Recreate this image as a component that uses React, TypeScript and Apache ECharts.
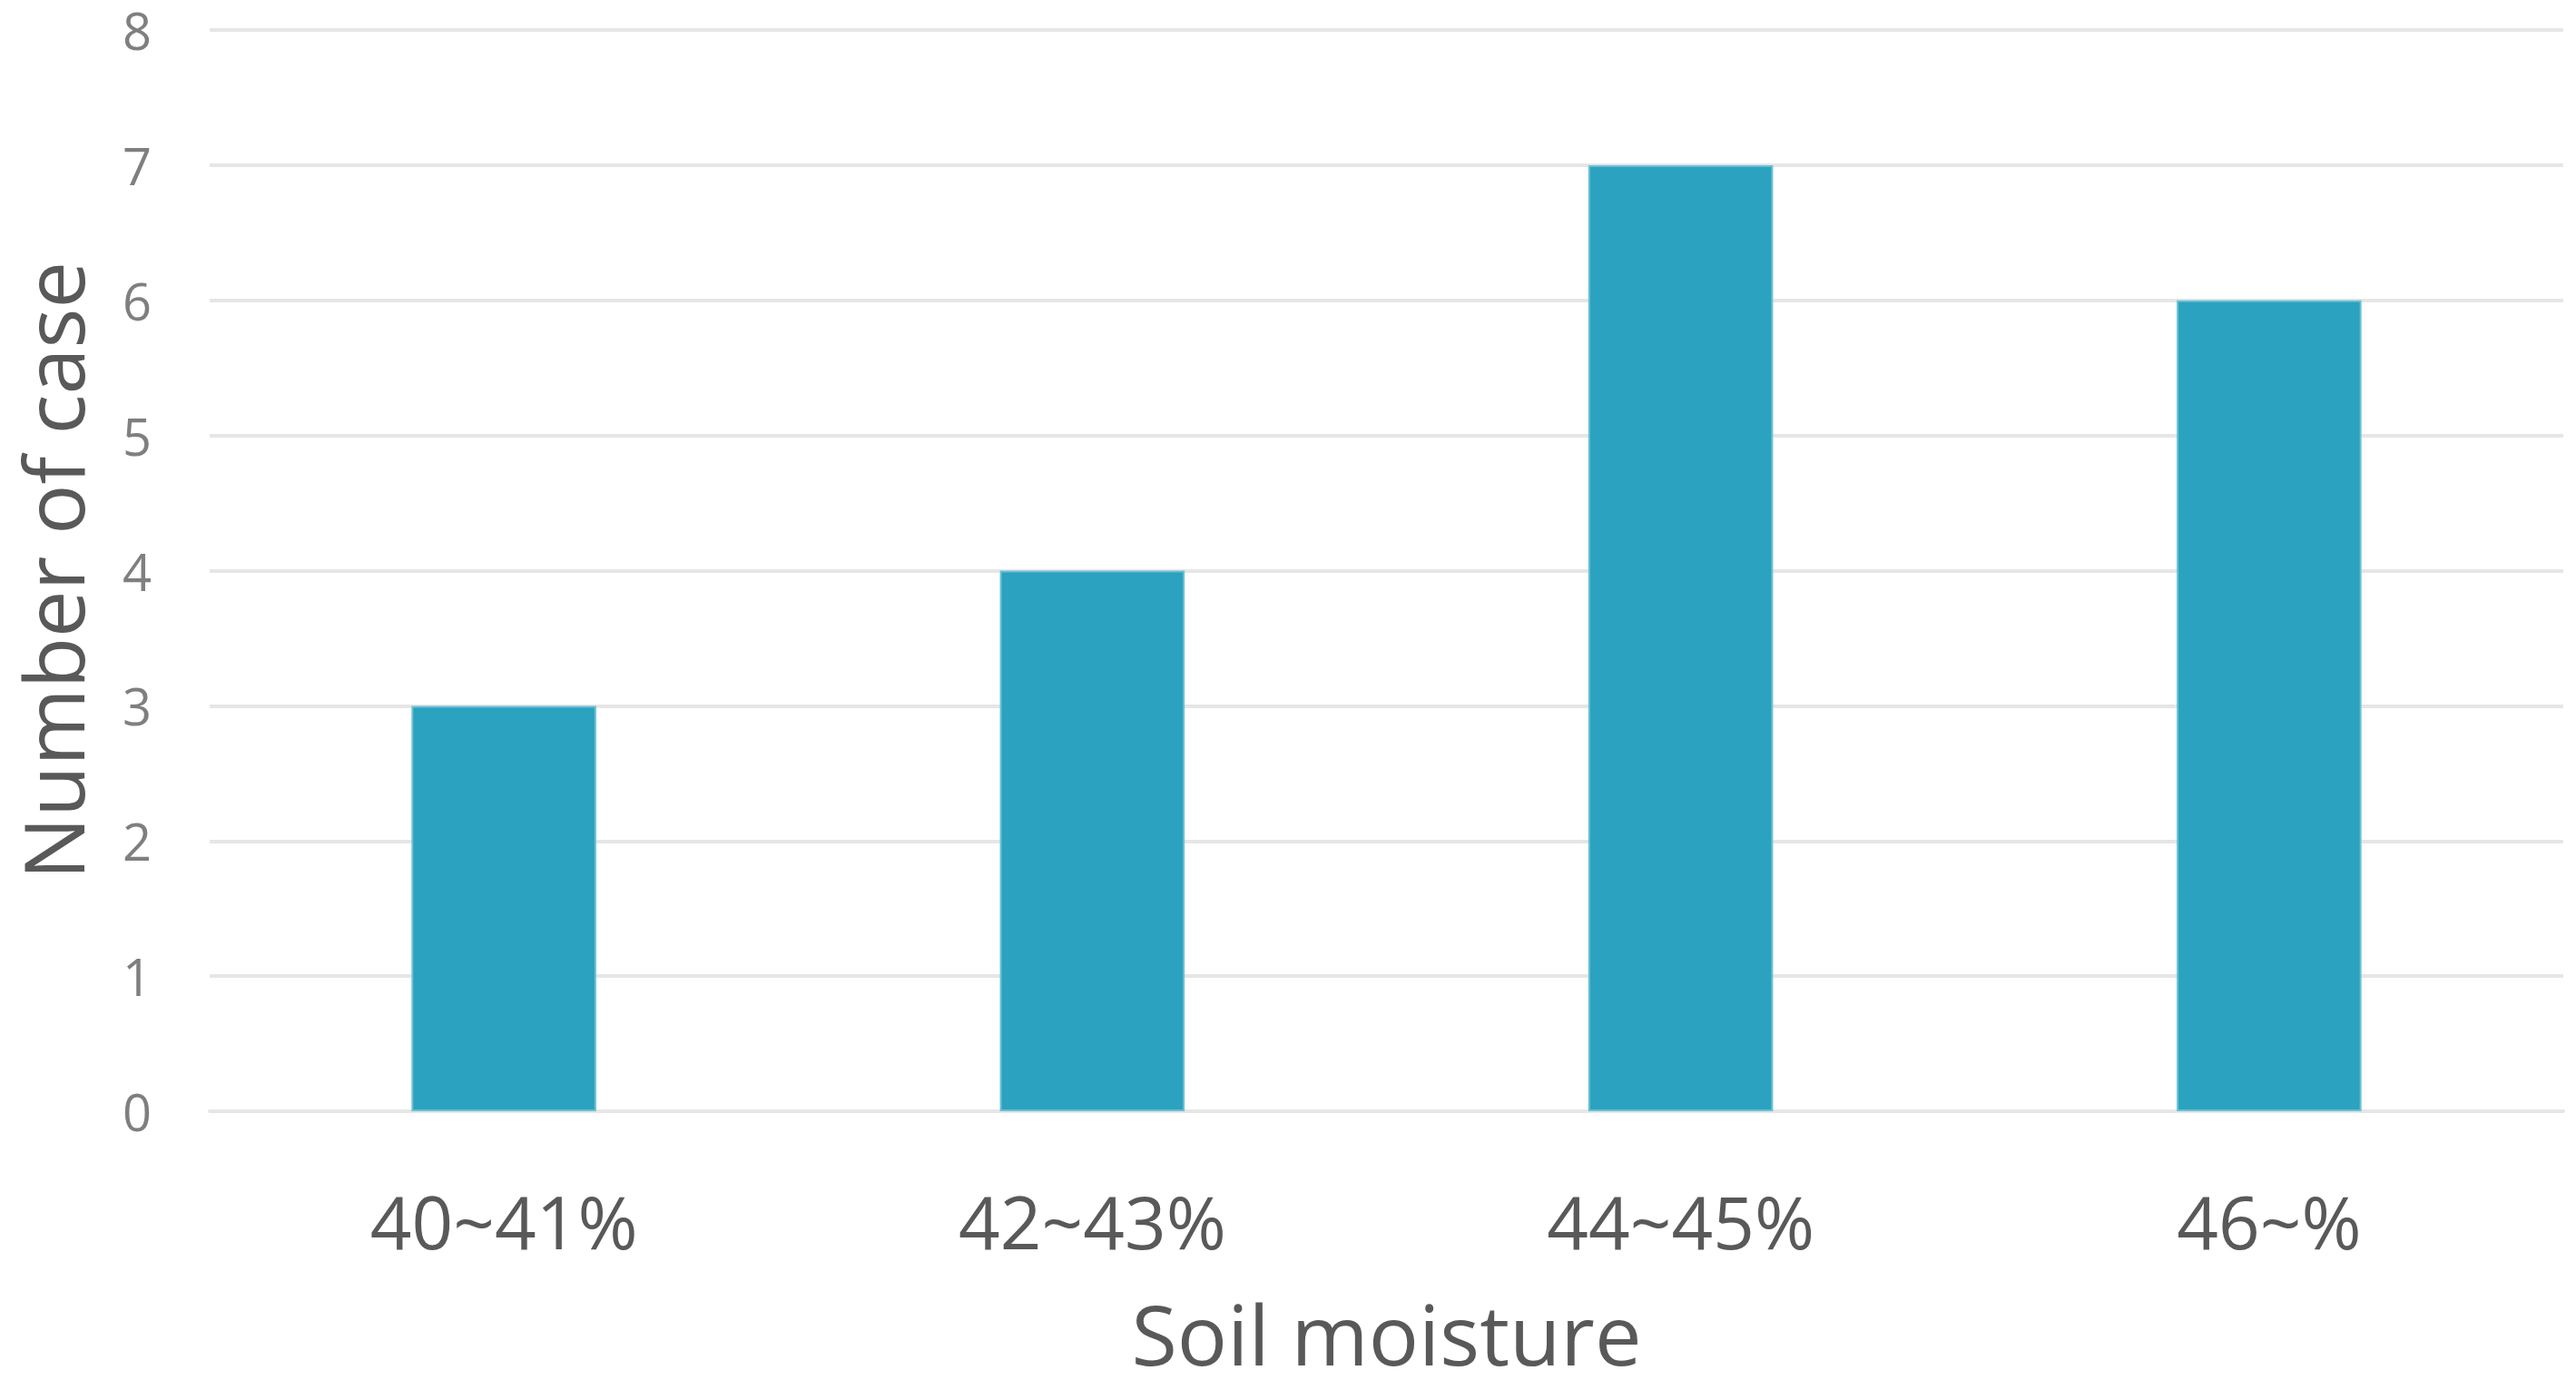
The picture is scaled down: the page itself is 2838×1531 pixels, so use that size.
import React, { useEffect, useRef } from "react";
import * as echarts from "echarts";

const categories = ["40~41%", "42~43%", "44~45%", "46~%"];
const caseCounts = [3, 4, 7, 6];
const yTicks = { min: 0, max: 8, interval: 1 };
const xTitle = "Soil moisture";
const yTitle = "Number of case";

export default function App() {
  const ref = useRef<HTMLDivElement>(null);
  useEffect(() => {
    if (!ref.current) return;
    const chart = echarts.init(ref.current, undefined, { renderer: "svg" });
    const font = "'Open Sans', 'Noto Sans', sans-serif";
    chart.setOption({
      animation: false,
      backgroundColor: "#ffffff",
      grid: {
        left: 231,
        right: 14,
        top: 33,
        bottom: 307,
        containLabel: false,
        outerBoundsMode: "none",
      },
      xAxis: {
        type: "category",
        data: categories,
        name: xTitle,
        nameLocation: "middle",
        nameGap: 196,
        nameTextStyle: { fontSize: 92, color: "#595959", fontFamily: font, lineHeight: 96 },
        axisLine: { show: true, lineStyle: { color: "#e6e6e6", width: 4 } },
        axisTick: { show: false },
        axisLabel: { fontSize: 80, color: "#595959", fontFamily: font, margin: 80 },
      },
      yAxis: {
        type: "value",
        min: yTicks.min,
        max: yTicks.max,
        interval: yTicks.interval,
        name: yTitle,
        nameLocation: "middle",
        nameGap: 126,
        nameTextStyle: { fontSize: 92, color: "#595959", fontFamily: font, lineHeight: 96 },
        axisLine: { show: false },
        axisTick: { show: false },
        splitLine: { lineStyle: { color: "#e6e6e6", width: 4 } },
        axisLabel: { fontSize: 56, color: "#7f7f7f", fontFamily: font, margin: 64, lineHeight: 58 },
      },
      series: [
        {
          type: "bar",
          data: caseCounts,
          barWidth: "31.4%",
          itemStyle: { color: "#2BA2BF", borderColor: "#6cc0d4", borderWidth: 2 },
        },
      ],
    });
    return () => chart.dispose();
  }, []);
  return (
    <div
      ref={ref}
      style={{ position: "fixed", left: 0, top: 0, width: 2838, height: 1531 }}
    />
  );
}
